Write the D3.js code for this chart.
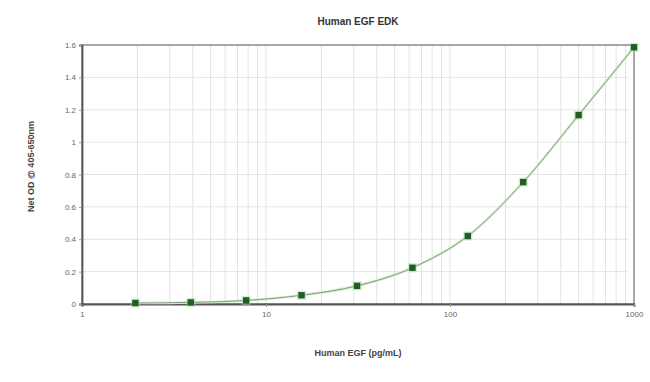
<!DOCTYPE html>
<html>
<head>
<meta charset="utf-8">
<script src="https://cdn.jsdelivr.net/npm/d3@7"></script>
<style>
  body{margin:0;background:#fff;}
  text{font-family:"Liberation Sans",Arial,sans-serif;}
</style>
</head>
<body>
<div id="chart"></div>
<script>
// standards (pg/mL) and net OD
const concentrations=[1.95,3.9,7.8,15.6,31.25,62.5,125,250,500,1000];
const odValues=[0.006,0.01,0.022,0.054,0.112,0.224,0.42,0.753,1.167,1.586];
const yTicks=[0,0.2,0.4,0.6,0.8,1,1.2,1.4,1.6];
const xTicks=[1,10,100,1000];

const width=650,height=382;
const margin={top:45,right:16,bottom:78,left:82};

const svg=d3.select("#chart").append("svg")
  .attr("width",width).attr("height",height);

const xScale=d3.scaleLog().domain([1,1000]).range([margin.left,width-margin.right]);
const yScale=d3.scaleLinear().domain([0,1.6]).range([height-margin.bottom,margin.top]);

// vertical grid at every minor log step
const minor=[];
for(let dec=1;dec<1000;dec*=10){
  for(let k=2;k<=9;k++) minor.push(dec*k);
}
svg.append("g")
  .selectAll("line")
  .data(minor.concat([10,100]))
  .enter().append("line")
  .attr("x1",d=>xScale(d)).attr("x2",d=>xScale(d))
  .attr("y1",yScale(1.6)).attr("y2",yScale(0))
  .attr("stroke","#e2e2e2").attr("stroke-width",1);

// horizontal grid
svg.append("g")
  .selectAll("line")
  .data(yTicks.slice(1,-1))
  .enter().append("line")
  .attr("x1",xScale(1)).attr("x2",xScale(1000)-6)
  .attr("y1",d=>yScale(d)).attr("y2",d=>yScale(d))
  .attr("stroke","#e4e4e4").attr("stroke-width",1);

// frame
svg.append("rect")
  .attr("x",xScale(1)).attr("y",yScale(1.6))
  .attr("width",xScale(1000)-xScale(1))
  .attr("height",yScale(0)-yScale(1.6))
  .attr("fill","none").attr("stroke","#7a7a7a").attr("stroke-width",1.3);

// axes
const xAxis=d3.axisBottom(xScale).tickValues(xTicks).tickFormat(d3.format("d")).tickSize(3);
const yAxis=d3.axisLeft(yScale).tickValues(yTicks).tickFormat(d=>d3.format("~g")(d)).tickSize(3);

const gx=svg.append("g")
  .attr("transform","translate(0,"+yScale(0)+")")
  .call(xAxis);
const gy=svg.append("g")
  .attr("transform","translate("+xScale(1)+",0)")
  .call(yAxis);

[gx,gy].forEach(g=>{
  g.select(".domain").attr("stroke","#555").attr("stroke-width",1.8);
  g.selectAll(".tick line").attr("stroke","#999");
  g.selectAll(".tick text").attr("fill","#666").attr("font-size","8px");
});
gx.selectAll(".tick text").attr("dy","0.9em");

// fitted curve, smoothed through the standards
const line=d3.line()
  .x((d,i)=>xScale(concentrations[i]))
  .y(d=>yScale(d))
  .curve(d3.curveMonotoneX);

svg.append("path")
  .datum(odValues)
  .attr("d",line)
  .attr("fill","none")
  .attr("stroke","#d2f0cb")
  .attr("stroke-width",2.6);
svg.append("path")
  .datum(odValues)
  .attr("d",line)
  .attr("fill","none")
  .attr("stroke","#8a9a88")
  .attr("stroke-width",1);

// markers
const pts=svg.append("g").selectAll("g")
  .data(odValues)
  .enter().append("g")
  .attr("transform",(d,i)=>"translate("+xScale(concentrations[i])+","+yScale(d)+")");
pts.append("rect")
  .attr("x",-4.5).attr("y",-4.5).attr("width",9).attr("height",9)
  .attr("fill","#a8dca0").attr("opacity",0.5);
pts.append("rect")
  .attr("x",-3.2).attr("y",-3.2).attr("width",6.4).attr("height",6.4)
  .attr("fill","#1f5f26");

// titles
svg.append("text")
  .attr("x",(xScale(1)+xScale(1000))/2).attr("y",25)
  .attr("text-anchor","middle")
  .attr("font-size","10px").attr("font-weight","bold").attr("fill","#333")
  .text("Human EGF EDK");

svg.append("text")
  .attr("x",(xScale(1)+xScale(1000))/2).attr("y",356)
  .attr("text-anchor","middle")
  .attr("font-size","9px").attr("font-weight","bold").attr("fill","#444")
  .text("Human EGF (pg/mL)");

svg.append("text")
  .attr("transform","translate(34,"+(yScale(0.8)-8)+") rotate(-90)")
  .attr("text-anchor","middle")
  .attr("font-size","9px").attr("font-weight","bold").attr("fill","#444")
  .text("Net OD @ 405-650nm");
</script>
</body>
</html>
